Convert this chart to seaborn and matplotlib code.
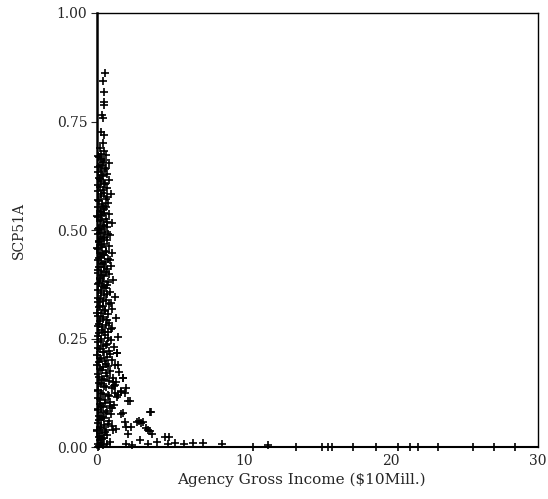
import matplotlib
matplotlib.use("Agg")
import matplotlib.pyplot as plt
import seaborn as sns
import pandas as pd

# ---- data ----
income = [
    # upper outliers
    0.55, 0.40, 0.48, 0.45, 0.50, 0.35, 0.42, 0.30, 0.45, 0.38,
    # dense band, first pass
    0.20, 0.45, 0.30, 0.62, 0.15, 0.50, 0.80, 0.35, 0.10, 0.55,
    0.25, 0.70, 0.40, 0.12, 0.85, 0.30, 0.55, 0.20, 0.65, 0.08,
    0.45, 0.95, 0.30, 0.60, 0.15, 0.75, 0.40, 0.05, 0.50, 0.25,
    0.85, 0.35, 0.10, 0.60, 0.20, 1.00, 0.45, 0.70, 0.15, 0.30,
    0.55, 0.05, 0.90, 0.40, 0.25, 0.65, 0.12, 0.50, 0.80, 0.35,
    0.08, 0.60, 0.20, 1.05, 0.45, 0.30, 0.75, 0.10, 0.55, 0.40,
    0.95, 0.15, 0.65, 0.30, 0.05, 0.85, 0.50, 0.22, 1.10, 0.40,
    0.12, 0.70, 0.35, 0.58, 0.08, 0.90, 0.26, 0.48, 1.20, 0.18,
    0.62, 0.04, 0.80, 0.38, 0.15, 1.00, 0.52, 0.28, 0.72, 0.10,
    1.30, 0.44, 0.20, 0.85, 0.60, 0.06, 1.05, 0.34, 0.75, 0.14,
    0.55, 1.40, 0.25, 0.92, 0.08, 0.66, 0.40, 1.15, 0.18, 0.82,
    0.50, 1.35, 0.03, 0.70, 0.30, 1.00, 0.12, 0.58, 1.25, 0.42,
    0.22, 0.90, 1.50, 0.06, 0.65, 1.10, 0.35, 1.80, 0.80, 0.15,
    1.20, 0.48, 1.00, 0.04, 1.60, 0.28, 0.75, 1.35, 0.10, 0.55,
    0.90, 0.20, 1.15, 0.40, 0.05, 0.70, 0.30, 0.95, 0.12, 0.50,
    0.25, 0.80, 0.08, 0.45, 1.00, 0.18, 0.60, 0.03, 0.35, 0.70,
    0.12, 0.50, 0.22, 0.90, 0.06, 0.40, 0.15, 0.65, 0.30, 0.10,
    # dense band, second pass
    0.05, 0.28, 0.40, 0.18, 0.62, 0.04, 0.35, 0.22, 0.48, 0.10,
    0.38, 0.25, 0.70, 0.06, 0.32, 0.58, 0.18, 0.45, 0.03, 0.28,
    0.65, 0.40, 0.08, 0.22, 0.75, 0.48, 0.15, 0.30, 0.02, 0.58,
    0.36, 0.12, 0.88, 0.25, 0.45, 0.06, 0.60, 0.32, 0.18, 0.78,
    0.05, 0.45, 0.25, 0.65, 0.10, 0.38, 0.95, 0.22, 0.55, 0.02,
    0.42, 0.68, 0.15, 0.32, 0.98, 0.48, 0.05, 0.75, 0.28, 0.60,
    0.10, 0.38, 0.88, 0.20, 0.52, 0.02, 0.78, 0.32, 0.60, 0.12,
    0.45, 1.30, 0.25, 0.62, 0.05, 0.38, 0.85, 0.18, 0.55, 0.30,
    0.08, 0.62, 0.40, 0.15, 0.75, 0.28, 0.02, 0.52, 0.20, 0.35,
    # tail
    1.80, 1.90, 2.25, 2.10, 1.35, 1.40, 1.10, 1.15, 3.60, 3.70,
    2.70, 2.85, 3.00, 3.10, 3.35, 3.50, 3.60, 3.75, 4.60, 4.90,
    4.10, 5.30, 6.50, 7.20, 2.40, 2.90, 1.10, 1.30, 2.00, 2.30,
    2.10, 1.60, 1.80, 1.90, 1.20, 1.60, 2.00, 1.40, 0.90, 1.05,
    2.00, 3.50, 4.80, 5.90, 8.50, 11.6, 10.6, 15.3, 15.7, 16.0,
    17.4, 20.5, 21.3, 21.8, 23.2, 25.6, 28.4, 13.5, 19.0, 27.0,
]

scp51a = [
    0.861, 0.843, 0.818, 0.795, 0.788, 0.765, 0.758, 0.725, 0.718, 0.700,
    0.688, 0.683, 0.676, 0.672, 0.668, 0.662, 0.655, 0.650, 0.645, 0.640,
    0.636, 0.630, 0.625, 0.620, 0.616, 0.612, 0.606, 0.600, 0.596, 0.590,
    0.586, 0.582, 0.578, 0.572, 0.566, 0.562, 0.556, 0.552, 0.548, 0.542,
    0.538, 0.534, 0.530, 0.526, 0.520, 0.516, 0.512, 0.508, 0.504, 0.500,
    0.496, 0.492, 0.488, 0.484, 0.480, 0.476, 0.472, 0.468, 0.464, 0.460,
    0.456, 0.452, 0.448, 0.446, 0.442, 0.438, 0.434, 0.430, 0.426, 0.422,
    0.418, 0.414, 0.410, 0.406, 0.402, 0.398, 0.394, 0.390, 0.386, 0.382,
    0.378, 0.374, 0.370, 0.366, 0.362, 0.358, 0.354, 0.350, 0.346, 0.342,
    0.338, 0.334, 0.330, 0.326, 0.322, 0.318, 0.314, 0.310, 0.306, 0.302,
    0.298, 0.294, 0.290, 0.286, 0.282, 0.278, 0.274, 0.270, 0.266, 0.262,
    0.258, 0.254, 0.250, 0.246, 0.242, 0.238, 0.234, 0.230, 0.226, 0.222,
    0.218, 0.216, 0.212, 0.208, 0.204, 0.200, 0.196, 0.192, 0.188, 0.184,
    0.180, 0.176, 0.172, 0.168, 0.164, 0.160, 0.156, 0.160, 0.152, 0.148,
    0.144, 0.140, 0.136, 0.132, 0.128, 0.124, 0.120, 0.116, 0.112, 0.108,
    0.104, 0.100, 0.096, 0.092, 0.088, 0.084, 0.080, 0.076, 0.072, 0.068,
    0.064, 0.060, 0.056, 0.052, 0.048, 0.044, 0.040, 0.036, 0.032, 0.028,
    0.024, 0.020, 0.016, 0.012, 0.008, 0.004, 0.002, 0.006, 0.010, 0.000,
    0.670, 0.664, 0.657, 0.648, 0.642, 0.633, 0.627, 0.617, 0.609, 0.603,
    0.593, 0.584, 0.575, 0.569, 0.560, 0.553, 0.545, 0.539, 0.532, 0.523,
    0.518, 0.510, 0.502, 0.494, 0.490, 0.482, 0.474, 0.466, 0.458, 0.450,
    0.444, 0.436, 0.432, 0.424, 0.416, 0.408, 0.404, 0.396, 0.388, 0.380,
    0.376, 0.368, 0.360, 0.352, 0.344, 0.336, 0.332, 0.324, 0.316, 0.308,
    0.300, 0.292, 0.284, 0.276, 0.272, 0.264, 0.256, 0.252, 0.244, 0.236,
    0.228, 0.220, 0.214, 0.206, 0.198, 0.190, 0.186, 0.178, 0.170, 0.162,
    0.154, 0.150, 0.146, 0.138, 0.130, 0.122, 0.118, 0.110, 0.102, 0.094,
    0.086, 0.078, 0.070, 0.062, 0.054, 0.046, 0.040, 0.034, 0.026, 0.018,
    0.160, 0.125, 0.106, 0.106, 0.217, 0.190, 0.150, 0.140, 0.080, 0.081,
    0.058, 0.060, 0.056, 0.058, 0.045, 0.040, 0.036, 0.030, 0.023, 0.023,
    0.012, 0.010, 0.010, 0.010, 0.005, 0.016, 0.040, 0.042, 0.046, 0.046,
    0.030, 0.076, 0.078, 0.058, 0.125, 0.130, 0.135, 0.120, 0.095, 0.090,
    0.006, 0.006, 0.006, 0.006, 0.007, 0.005, 0.000, 0.001, 0.000, 0.001,
    0.000, 0.000, 0.001, 0.000, 0.000, 0.000, 0.001, 0.000, 0.000, 0.000,
]

x_ticks = [0, 10, 20, 30]
x_tick_labels = ["0", "10", "20", "30"]
y_ticks = [0.0, 0.25, 0.5, 0.75, 1.0]
y_tick_labels = ["0.00", "0.25", "0.50", "0.75", "1.00"]

df = pd.DataFrame({"income": income, "scp51a": scp51a})

sns.set_style("ticks")
plt.rcParams["font.family"] = ["DejaVu Serif"]

fig = plt.figure(figsize=(5.48, 4.99), dpi=100)
ax = fig.add_axes([0.177, 0.104, 0.805, 0.870])

sns.scatterplot(data=df, x="income", y="scp51a", marker="+", color="black",
                s=26, linewidth=1.2, ax=ax, clip_on=False, legend=False)

ax.set_xlim(0, 30)
ax.set_ylim(0, 1.0)
ax.set_xticks(x_ticks)
ax.set_xticklabels(x_tick_labels, fontsize=10)
ax.set_yticks(y_ticks)
ax.set_yticklabels(y_tick_labels, fontsize=10)
ax.tick_params(axis="x", length=0, pad=5)
ax.tick_params(axis="y", length=4, width=0.8, pad=3)

for sp in ax.spines.values():
    sp.set_visible(True)
    sp.set_color("black")
    sp.set_linewidth(1.0)
ax.spines["left"].set_linewidth(1.8)
ax.spines["bottom"].set_linewidth(1.5)

ax.set_xlabel("Agency Gross Income ($10Mill.)", fontsize=11)
ax.xaxis.set_label_coords(0.463, -0.058)
ax.set_ylabel("SCP51A", fontsize=10, labelpad=22)

fig.savefig("out.png", dpi=100)
